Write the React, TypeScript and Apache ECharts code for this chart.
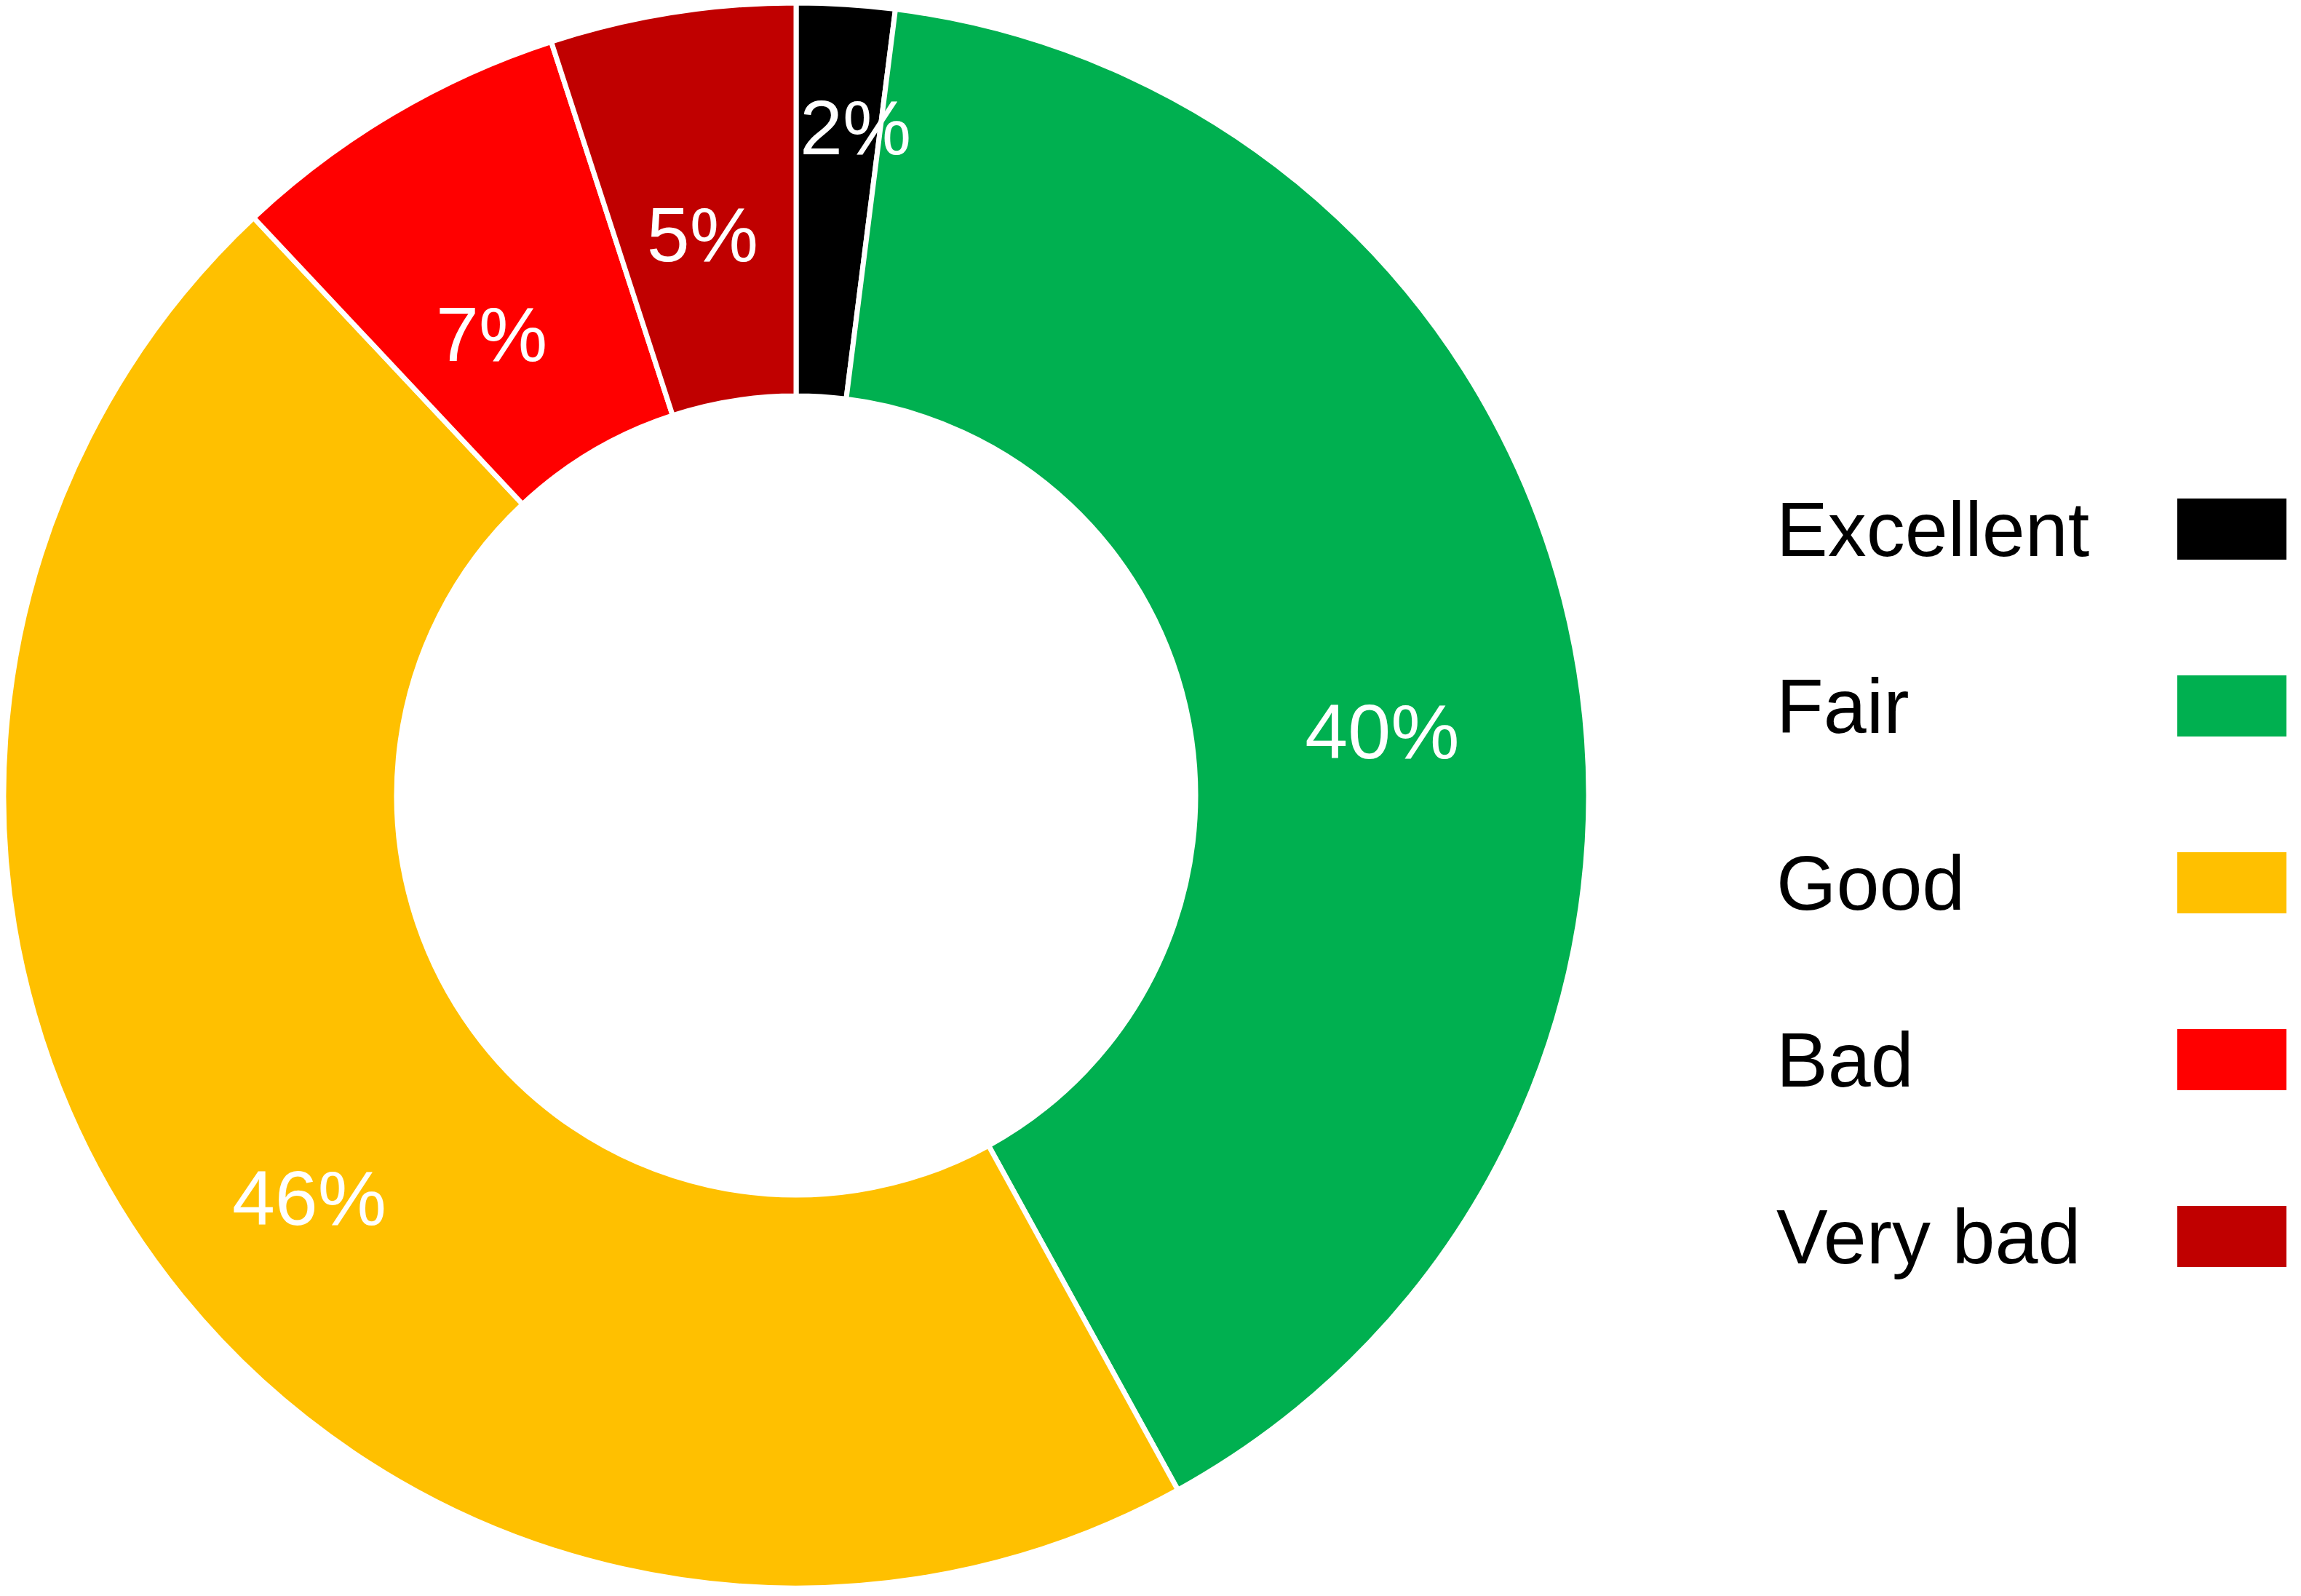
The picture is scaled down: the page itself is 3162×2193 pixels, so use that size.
import React, { useEffect, useRef } from "react";
import * as echarts from "echarts";

const categories = ["Excellent", "Fair", "Good", "Bad", "Very bad"];
const values = [2, 40, 46, 7, 5];
const colors = ["#000000", "#00B050", "#FFC000", "#FF0000", "#C00000"];
const labelOffsets: [number, number][] = [
  [30, -98],
  [-2, 66],
  [-4, 70],
  [0, 74],
  [0, 41],
];

const FONT = "'Liberation Sans', Arial, sans-serif";
const FS = 106;

export default function App() {
  const ref = useRef<HTMLDivElement>(null);
  useEffect(() => {
    document.body.style.margin = "0";
    if (!ref.current) return;
    const chart = echarts.init(ref.current, undefined, { renderer: "svg" });
    chart.setOption({
      animation: false,
      backgroundColor: "#ffffff",
      legend: [
        {
          orient: "vertical",
          left: 2435,
          top: 674,
          padding: 0,
          selectedMode: false,
          icon: "rect",
          itemWidth: 0,
          itemHeight: 86,
          itemGap: 137,
          data: categories,
          itemStyle: { opacity: 0 },
          textStyle: { color: "#000000", fontSize: FS, fontFamily: FONT },
        },
        {
          orient: "vertical",
          left: 2990,
          top: 674,
          padding: 0,
          selectedMode: false,
          icon: "rect",
          itemWidth: 152,
          itemHeight: 86,
          itemGap: 137,
          data: categories,
          formatter: () => " ",
          textStyle: { color: "#000000", fontSize: FS, fontFamily: FONT },
        },
      ],
      series: [
        {
          type: "pie",
          center: [1094, 1093],
          radius: [549, 1089],
          startAngle: 90,
          clockwise: true,
          avoidLabelOverlap: false,
          itemStyle: { borderColor: "#ffffff", borderWidth: 7 },
          label: {
            show: true,
            position: "inside",
            formatter: "{c}%",
            color: "#ffffff",
            fontSize: FS,
            fontFamily: FONT,
          },
          labelLine: { show: false },
          emphasis: { disabled: true },
          data: categories.map((name, i) => ({
            name,
            value: values[i],
            itemStyle: { color: colors[i] },
            label: { offset: labelOffsets[i] },
          })),
        },
      ],
    });
    return () => chart.dispose();
  }, []);
  return <div ref={ref} style={{ width: 3162, height: 2193 }} />;
}
